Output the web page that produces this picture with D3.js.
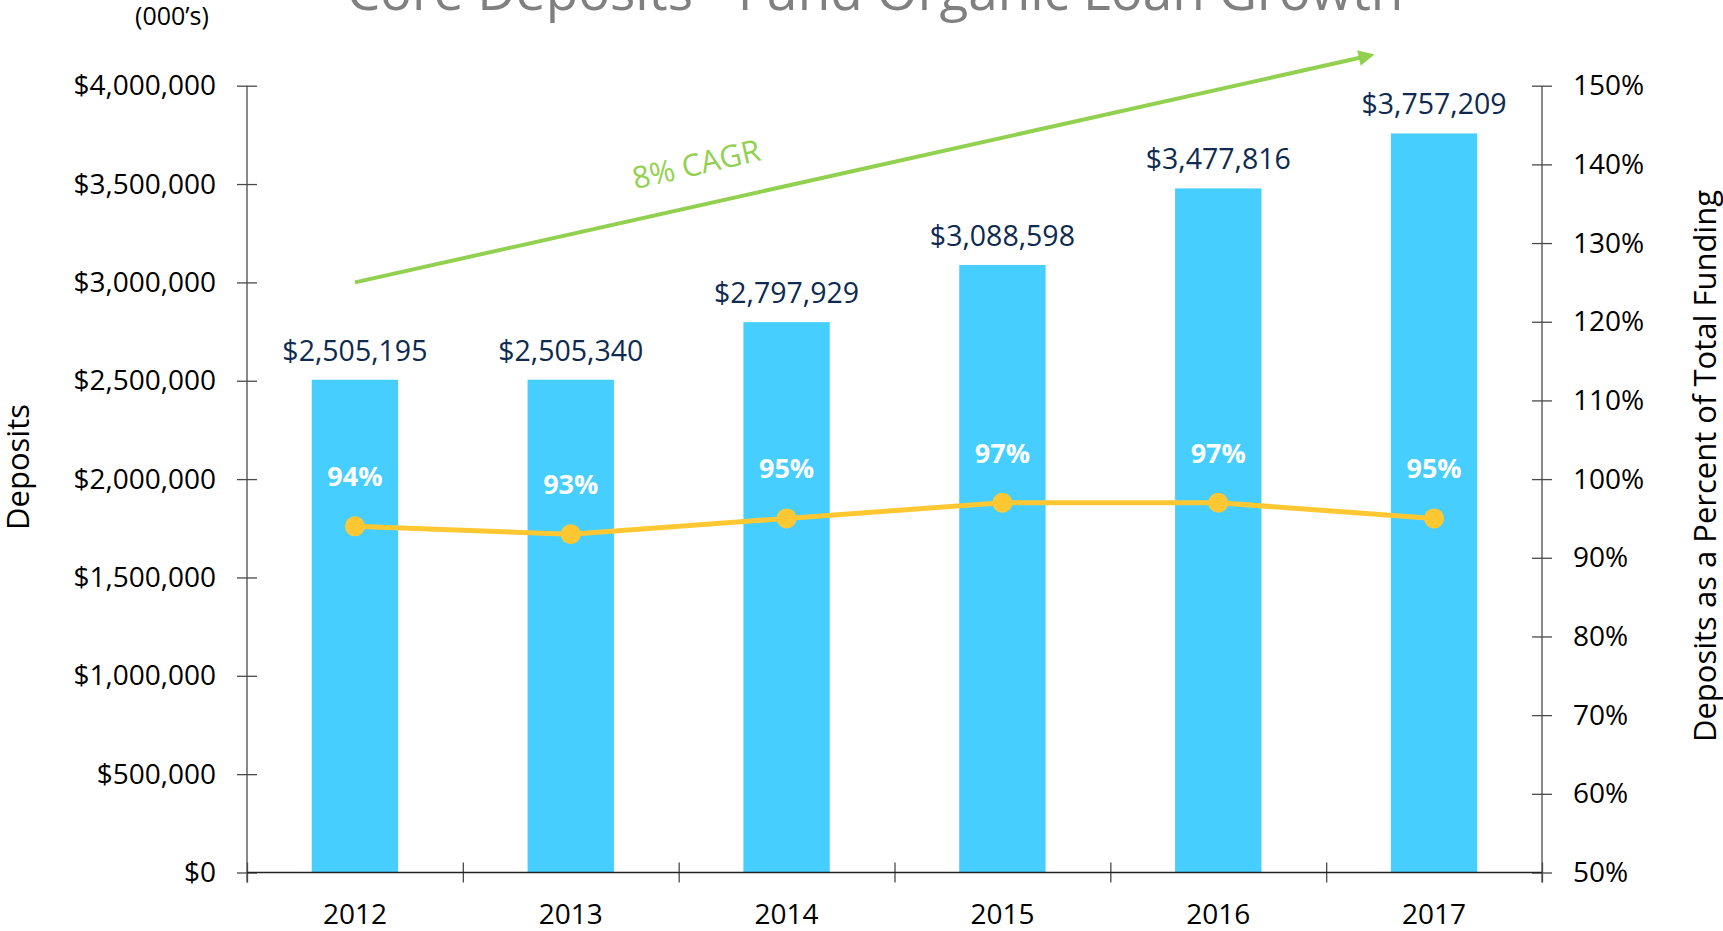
<!DOCTYPE html>
<html>
<head>
<meta charset="utf-8">
<script src="https://cdn.jsdelivr.net/npm/d3@7"></script>
<style>
  html, body { margin: 0; padding: 0; background: #fff; }
  svg { display: block; font-family: "Open Sans", "Noto Sans", sans-serif; }
</style>
</head>
<body>
<svg id="chart" width="1723" height="931"></svg>
<script>
// ---- data ----
const years = ["2012", "2013", "2014", "2015", "2016", "2017"];
const deposits = [2505195, 2505340, 2797929, 3088598, 3477816, 3757209];
const pctOfFunding = [94, 93, 95, 97, 97, 95];
const leftTicks = [0, 500000, 1000000, 1500000, 2000000, 2500000, 3000000, 3500000, 4000000];
const rightTicks = [50, 60, 70, 80, 90, 100, 110, 120, 130, 140, 150];
const titleText = "Core Deposits - Fund Organic Loan Growth";
const unitsText = "(000\u2019s)";
const leftTitle = "Deposits";
const rightTitle = "Deposits as a Percent of Total Funding";
const cagrText = "8% CAGR";
// CAGR arrow annotation: [slot position along categories, deposit value]
const cagrFrom = [0.5, 3000000];
const cagrTo = [5.23, 4160000];

// ---- layout ----
const svg = d3.select("#chart");
const L = 247, R = 1542, T = 85.7, B = 872.5;
const barColor = "#45CEFF", lineColor = "#FFC832", green = "#92D050", navy = "#0E2A50", axisColor = "#4a4a4a";

const x = d3.scaleBand().domain(years).range([L, R]).paddingInner(0.6).paddingOuter(0.3);
const slot = d3.scaleLinear().domain([0, years.length]).range([L, R]);
const yL = d3.scaleLinear().domain([0, 4000000]).range([B, T]);
const yR = d3.scaleLinear().domain([50, 150]).range([B, T]);

// defs: arrow marker
svg.append("defs").append("marker")
  .attr("id", "arrow").attr("viewBox", "0 0 10 10")
  .attr("refX", 2).attr("refY", 5)
  .attr("markerWidth", 4.4).attr("markerHeight", 4)
  .attr("markerUnits", "strokeWidth")
  .attr("orient", "auto")
  .append("path").attr("d", "M0,0 L10,5 L0,10 Z").attr("fill", green);

// bars
svg.append("g").selectAll("rect").data(deposits).join("rect")
  .attr("x", (d, i) => x(years[i]))
  .attr("width", x.bandwidth())
  .attr("y", d => yL(d))
  .attr("height", d => B - yL(d))
  .attr("fill", barColor);

// left axis
const fmtL = v => "$" + d3.format(",")(v);
const gL = svg.append("g").attr("transform", `translate(${L},0)`)
  .call(d3.axisLeft(yL).tickValues(leftTicks).tickFormat(fmtL).tickSize(10).tickPadding(21));
gL.selectAll(".tick line").attr("x1", -10).attr("x2", 10);
gL.select(".domain").remove();
gL.append("line").attr("x1", 0).attr("x2", 0).attr("y1", T).attr("y2", B + 10).attr("stroke", axisColor).attr("stroke-width", 1.3);

// right axis
const gR = svg.append("g").attr("transform", `translate(${R},0)`)
  .call(d3.axisRight(yR).tickValues(rightTicks).tickFormat(d => d + "%").tickSize(10).tickPadding(21));
gR.selectAll(".tick line").attr("x1", -10).attr("x2", 10);
gR.select(".domain").remove();
gR.append("line").attr("x1", 0).attr("x2", 0).attr("y1", T).attr("y2", B + 10).attr("stroke", axisColor).attr("stroke-width", 1.3);

// bottom axis: boundary ticks + year labels
const gB = svg.append("g").attr("transform", `translate(0,${B})`)
  .call(d3.axisBottom(slot).tickValues(d3.range(years.length + 1)).tickFormat("").tickSize(10));
gB.selectAll(".tick line").attr("y1", -10).attr("y2", 10);
gB.select(".domain").remove();
gB.append("line").attr("x1", L).attr("x2", R).attr("y1", 0).attr("y2", 0).attr("stroke", "#222").attr("stroke-width", 1.6);

const gX = svg.append("g").attr("transform", `translate(0,${B})`)
  .call(d3.axisBottom(x).tickSize(0).tickPadding(32));
gX.select(".domain").remove();

[gL, gR, gB, gX].forEach(g => {
  g.attr("font-family", null).attr("font-size", null);
  g.selectAll(".tick line").attr("stroke", axisColor).attr("stroke-width", 1.3);
  g.selectAll(".tick text").attr("fill", "#000").style("font-size", "28px");
});

// value labels above bars
svg.append("g").selectAll("text").data(deposits).join("text")
  .attr("x", (d, i) => x(years[i]) + x.bandwidth() / 2)
  .attr("y", d => yL(d) - 19)
  .attr("text-anchor", "middle")
  .attr("fill", navy)
  .style("font-size", "28.5px")
  .text(d => fmtL(d));

// percent line
const pts = pctOfFunding.map((v, i) => [x(years[i]) + x.bandwidth() / 2, yR(v)]);
svg.append("path").datum(pts)
  .attr("d", d3.line())
  .attr("fill", "none").attr("stroke", lineColor).attr("stroke-width", 5).attr("stroke-linejoin", "round");
svg.append("g").selectAll("circle").data(pts).join("circle")
  .attr("cx", d => d[0]).attr("cy", d => d[1]).attr("r", 10).attr("fill", lineColor);

// percent labels
svg.append("g").selectAll("text").data(pctOfFunding).join("text")
  .attr("x", (d, i) => x(years[i]) + x.bandwidth() / 2)
  .attr("y", d => yR(d) - 40)
  .attr("text-anchor", "middle")
  .attr("fill", "#fff")
  .style("font-size", "27px").style("font-weight", "700")
  .text(d => d + "%");

// CAGR arrow
const ax1 = slot(cagrFrom[0]), ay1 = yL(cagrFrom[1]);
const ax2 = slot(cagrTo[0]), ay2 = yL(cagrTo[1]);
const ang = Math.atan2(ay2 - ay1, ax2 - ax1);
const headLen = 4.4 * 4 * 0.8;
svg.append("line")
  .attr("x1", ax1).attr("y1", ay1)
  .attr("x2", ax2 - Math.cos(ang) * headLen).attr("y2", ay2 - Math.sin(ang) * headLen)
  .attr("stroke", green).attr("stroke-width", 4)
  .attr("marker-end", "url(#arrow)");

svg.append("text")
  .attr("transform", `translate(696,163) rotate(-13)`)
  .attr("text-anchor", "middle").attr("dominant-baseline", "central")
  .attr("fill", green).style("font-size", "30.5px")
  .text(cagrText);

// title (clipped at top)
const title = svg.append("text")
  .attr("x", 875).attr("y", 10)
  .attr("text-anchor", "middle").attr("fill", "#808080")
  .style("font-size", "48px")
  .text(titleText);
const tw = title.node().getComputedTextLength();
title.style("font-size", (48 * 1057 / tw).toFixed(1) + "px");

// units
svg.append("text").attr("x", 172).attr("y", 25).attr("text-anchor", "middle")
  .attr("fill", "#000").style("font-size", "25px").text(unitsText);

// axis titles
svg.append("text").attr("transform", "translate(17,467) rotate(-90)")
  .attr("text-anchor", "middle").attr("dominant-baseline", "central")
  .attr("fill", "#000").style("font-size", "31px").text(leftTitle);
svg.append("text").attr("transform", "translate(1704,466) rotate(-90)")
  .attr("text-anchor", "middle").attr("dominant-baseline", "central")
  .attr("fill", "#000").style("font-size", "31px").text(rightTitle);
</script>
</body>
</html>
